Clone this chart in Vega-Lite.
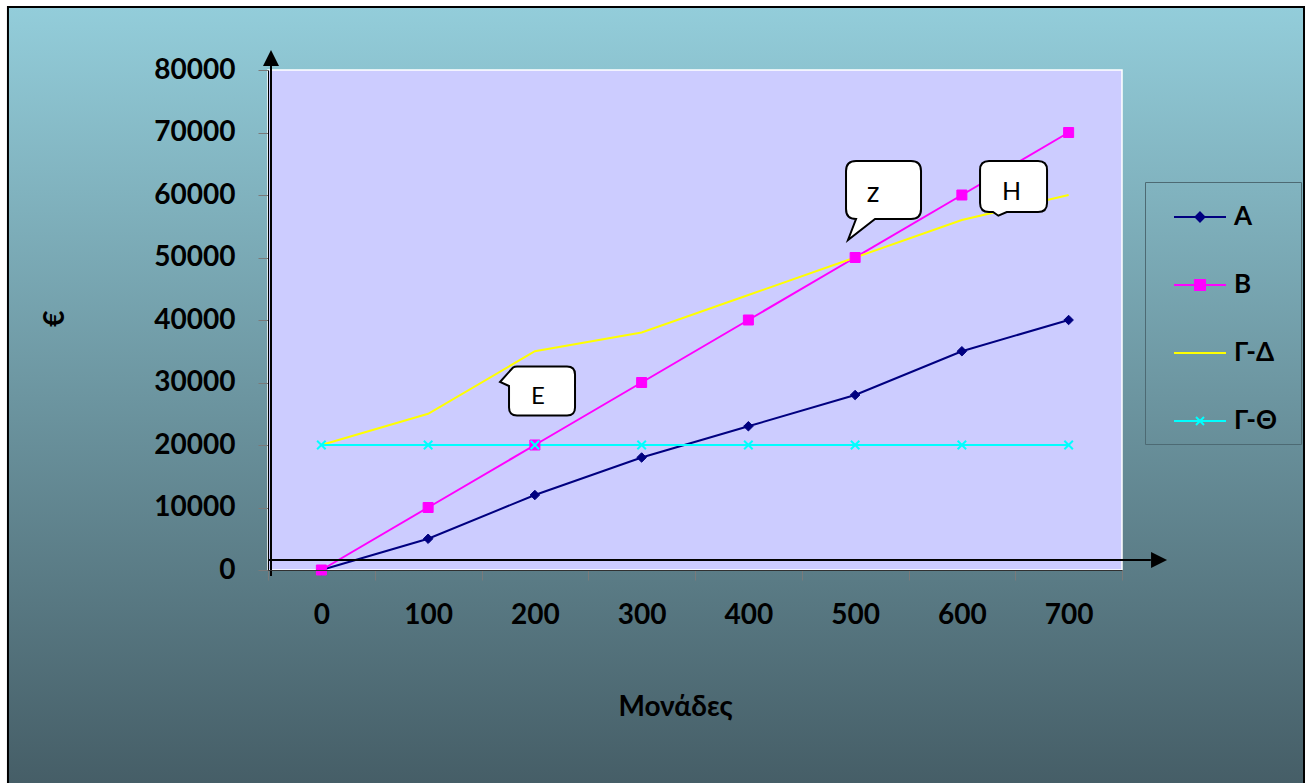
{
  "$schema": "https://vega.github.io/schema/vega-lite/v6.json",
  "width": 854,
  "height": 500,
  "autosize": {"type": "none"},
  "padding": {"left": 268, "top": 70, "right": 187, "bottom": 213},
  "background": "white",
  "config": {"view": {"stroke": null}, "font": "Lato"},
  "datasets": {
    "series": [
      {"units": 0, "value": 0, "series": "Α"},
      {"units": 100, "value": 5000, "series": "Α"},
      {"units": 200, "value": 12000, "series": "Α"},
      {"units": 300, "value": 18000, "series": "Α"},
      {"units": 400, "value": 23000, "series": "Α"},
      {"units": 500, "value": 28000, "series": "Α"},
      {"units": 600, "value": 35000, "series": "Α"},
      {"units": 700, "value": 40000, "series": "Α"},
      {"units": 0, "value": 0, "series": "Β"},
      {"units": 100, "value": 10000, "series": "Β"},
      {"units": 200, "value": 20000, "series": "Β"},
      {"units": 300, "value": 30000, "series": "Β"},
      {"units": 400, "value": 40000, "series": "Β"},
      {"units": 500, "value": 50000, "series": "Β"},
      {"units": 600, "value": 60000, "series": "Β"},
      {"units": 700, "value": 70000, "series": "Β"},
      {"units": 0, "value": 20000, "series": "Γ-Δ"},
      {"units": 100, "value": 25000, "series": "Γ-Δ"},
      {"units": 200, "value": 35000, "series": "Γ-Δ"},
      {"units": 300, "value": 38000, "series": "Γ-Δ"},
      {"units": 400, "value": 44000, "series": "Γ-Δ"},
      {"units": 500, "value": 50000, "series": "Γ-Δ"},
      {"units": 600, "value": 56000, "series": "Γ-Δ"},
      {"units": 700, "value": 60000, "series": "Γ-Δ"},
      {"units": 0, "value": 20000, "series": "Γ-Θ"},
      {"units": 100, "value": 20000, "series": "Γ-Θ"},
      {"units": 200, "value": 20000, "series": "Γ-Θ"},
      {"units": 300, "value": 20000, "series": "Γ-Θ"},
      {"units": 400, "value": 20000, "series": "Γ-Θ"},
      {"units": 500, "value": 20000, "series": "Γ-Θ"},
      {"units": 600, "value": 20000, "series": "Γ-Θ"},
      {"units": 700, "value": 20000, "series": "Γ-Θ"}
    ]
  },
  "layer": [
    {
      "data": {"values": [{}]},
      "mark": {
        "type": "rect",
        "fill": {"gradient": "linear", "x1": 0, "y1": 0, "x2": 0, "y2": 1,
          "stops": [{"offset": 0, "color": "#93CDDA"}, {"offset": 1, "color": "#455D66"}]},
        "stroke": "black", "strokeWidth": 2
      },
      "encoding": {
        "x": {
          "datum": -293.6, "type": "quantitative",
          "scale": {"domain": [-50, 750], "nice": false, "zero": false},
          "axis": {
            "zindex": 1,
            "values": [-50, 50, 150, 250, 350, 450, 550, 650, 750],
            "labelExpr": "datum.value >= 750 ? '' : format(datum.value + 50, 'd')",
            "labelOffset": 53.375,
            "labelOverlap": false, "labelBound": false, "labelFlush": false,
            "labelFont": "Lato", "labelFontSize": 28, "labelFontWeight": "bold", "labelColor": "black",
            "labelPadding": 21,
            "tickSize": 10, "tickColor": "#7a7a7a", "tickWidth": 1,
            "domainColor": "#303030", "domainWidth": 1,
            "grid": false,
            "title": "Μονάδες",
            "titleFont": "Lato", "titleFontSize": 28, "titleFontWeight": "bold", "titleColor": "black",
            "titleX": 407, "titleY": 137, "titleBaseline": "middle", "titleAlign": "center"
          }
        },
        "x2": {"datum": 920.5},
        "y": {
          "datum": 90080, "type": "quantitative",
          "scale": {"domain": [0, 80000], "nice": false, "zero": false},
          "axis": {
            "zindex": 1,
            "values": [0, 10000, 20000, 30000, 40000, 50000, 60000, 70000, 80000],
            "format": "d",
            "labelFont": "Lato", "labelFontSize": 28, "labelFontWeight": "bold", "labelColor": "black",
            "labelPadding": 23,
            "tickSize": 10, "tickColor": "#7a7a7a", "tickWidth": 1,
            "domainColor": "black", "domainWidth": 1,
            "grid": false,
            "title": "€",
            "titleFont": "Lato", "titleFontSize": 28, "titleFontWeight": "bold", "titleColor": "black",
            "titleAngle": 270, "titleX": -213, "titleY": 248, "titleBaseline": "middle", "titleAlign": "center"
          }
        },
        "y2": {"datum": -35200}
      }
    },
    {
      "data": {"values": [{}]},
      "mark": {"type": "rect", "fill": "#CCCCFF", "stroke": "white", "strokeWidth": 1.5},
      "encoding": {
        "x": {"datum": -50, "type": "quantitative", "scale": {"domain": [-50, 750], "nice": false, "zero": false}},
        "x2": {"datum": 750},
        "y": {"datum": 0, "type": "quantitative", "scale": {"domain": [0, 80000], "nice": false, "zero": false}},
        "y2": {"datum": 80000}
      }
    },
    {
      "data": {"name": "series"},
      "mark": {"type": "line", "strokeWidth": 2},
      "encoding": {
        "x": {"field": "units", "type": "quantitative", "scale": {"domain": [-50, 750], "nice": false, "zero": false}},
        "y": {"field": "value", "type": "quantitative", "scale": {"domain": [0, 80000], "nice": false, "zero": false}},
        "color": {
          "field": "series", "type": "nominal",
          "scale": {"domain": ["Α", "Β", "Γ-Δ", "Γ-Θ"], "range": ["#000080", "#FF00FF", "#FFFF00", "#00FFFF"]},
          "legend": {
            "orient": "none", "legendX": 877, "legendY": 112,
            "title": null, "padding": 10, "rowPadding": 30,
            "symbolSize": 2304, "symbolStrokeWidth": 2,
            "labelOffset": 29, "labelFont": "Lato", "labelFontSize": 26, "labelFontWeight": "bold", "labelColor": "black",
            "strokeColor": "#4d6a73", "zindex": 1,
            "encode": {
              "symbols": {
                "update": {
                  "shape": {"signal": "datum.value === 'Α' ? 'M-1,0M-0.25,0H1.917M0.833,-0.19L1.02,0L0.833,0.19L0.646,0ZM4.45,0' : datum.value === 'Β' ? 'M-1,0M-0.25,0H1.917M0.625,-0.208H1.042V0.208H0.625ZM4.45,0' : datum.value === 'Γ-Δ' ? 'M-1,0M-0.25,0H1.917M4.45,0' : 'M-1,0M-0.25,0H1.917M0.667,-0.167L1,0.167M0.667,0.167L1,-0.167M4.45,0'"},
                  "fill": {"signal": "scale('color', datum.value)"},
                  "stroke": {"signal": "scale('color', datum.value)"},
                  "strokeWidth": {"value": 2},
                  "opacity": {"value": 1}
                }
              }
            }
          }
        }
      }
    },
    {
      "data": {"name": "series"},
      "transform": [{"filter": "datum.series === 'Α'"}],
      "mark": {"type": "point", "shape": "diamond", "size": 90, "filled": true, "fill": "#000080", "stroke": "#000080", "strokeWidth": 1, "opacity": 1},
      "encoding": {
        "x": {"field": "units", "type": "quantitative", "scale": {"domain": [-50, 750], "nice": false, "zero": false}},
        "y": {"field": "value", "type": "quantitative", "scale": {"domain": [0, 80000], "nice": false, "zero": false}}
      }
    },
    {
      "data": {"name": "series"},
      "transform": [{"filter": "datum.series === 'Β'"}],
      "mark": {"type": "point", "shape": "square", "size": 100, "filled": true, "fill": "#FF00FF", "stroke": "#FF00FF", "strokeWidth": 1, "opacity": 1},
      "encoding": {
        "x": {"field": "units", "type": "quantitative", "scale": {"domain": [-50, 750], "nice": false, "zero": false}},
        "y": {"field": "value", "type": "quantitative", "scale": {"domain": [0, 80000], "nice": false, "zero": false}}
      }
    },
    {
      "data": {"name": "series"},
      "transform": [{"filter": "datum.series === 'Γ-Θ'"}],
      "mark": {"type": "point", "shape": "M-1,-1L1,1M-1,1L1,-1", "size": 72, "filled": false, "stroke": "#00FFFF", "strokeWidth": 2, "opacity": 1},
      "encoding": {
        "x": {"field": "units", "type": "quantitative", "scale": {"domain": [-50, 750], "nice": false, "zero": false}},
        "y": {"field": "value", "type": "quantitative", "scale": {"domain": [0, 80000], "nice": false, "zero": false}}
      }
    },
    {
      "data": {"values": [{}]},
      "mark": {"type": "rule", "color": "black", "strokeWidth": 2},
      "encoding": {
        "x": {"datum": -47.19, "type": "quantitative", "scale": {"domain": [-50, 750], "nice": false, "zero": false}},
        "y": {"datum": -960, "type": "quantitative", "scale": {"domain": [0, 80000], "nice": false, "zero": false}},
        "y2": {"datum": 81000}
      }
    },
    {
      "data": {"values": [{}]},
      "mark": {"type": "rule", "color": "black", "strokeWidth": 2},
      "encoding": {
        "x": {"datum": -50, "type": "quantitative", "scale": {"domain": [-50, 750], "nice": false, "zero": false}},
        "x2": {"datum": 777},
        "y": {"datum": 1600, "type": "quantitative", "scale": {"domain": [0, 80000], "nice": false, "zero": false}}
      }
    },
    {
      "data": {"values": [{}]},
      "mark": {"type": "point", "shape": "M0,-1L1,1L-1,1Z", "size": 256, "filled": true, "fill": "black", "strokeWidth": 0, "opacity": 1},
      "encoding": {
        "x": {"datum": -47.19, "type": "quantitative", "scale": {"domain": [-50, 750], "nice": false, "zero": false}},
        "y": {"datum": 81920, "type": "quantitative", "scale": {"domain": [0, 80000], "nice": false, "zero": false}}
      }
    },
    {
      "data": {"values": [{}]},
      "mark": {"type": "point", "shape": "M1,0L-1,-1L-1,1Z", "size": 256, "filled": true, "fill": "black", "strokeWidth": 0, "opacity": 1},
      "encoding": {
        "x": {"datum": 784.7, "type": "quantitative", "scale": {"domain": [-50, 750], "nice": false, "zero": false}},
        "y": {"datum": 1600, "type": "quantitative", "scale": {"domain": [0, 80000], "nice": false, "zero": false}}
      }
    },
    {
      "data": {"values": [{"label": "Ε"}]},
      "encoding": {
        "x": {"datum": 206.7, "type": "quantitative", "scale": {"domain": [-50, 750], "nice": false, "zero": false}},
        "y": {"datum": 28640, "type": "quantitative", "scale": {"domain": [0, 80000], "nice": false, "zero": false}}
      },
      "layer": [
        {"mark": {"type": "point", "shape": "M-25,-24.5H25Q33,-24.5 33,-16.5V16.5Q33,24.5 25,24.5H-25Q-33,24.5 -33,16.5V-5L-42,-9L-29,-23.5Q-27.5,-24.5 -25,-24.5Z", "size": 4, "filled": true, "fill": "white", "stroke": "black", "strokeWidth": 2, "opacity": 1}},
        {"mark": {"type": "text", "font": "Lato", "fontSize": 24, "color": "black", "dx": -4, "dy": 6, "baseline": "middle", "align": "center"}, "encoding": {"text": {"field": "label"}}}
      ]
    },
    {
      "data": {"values": [{"label": "z"}]},
      "encoding": {
        "x": {"datum": 526.6, "type": "quantitative", "scale": {"domain": [-50, 750], "nice": false, "zero": false}},
        "y": {"datum": 60800, "type": "quantitative", "scale": {"domain": [0, 80000], "nice": false, "zero": false}}
      },
      "layer": [
        {"mark": {"type": "point", "shape": "M-27.5,-29H27.5Q37.5,-29 37.5,-19V19Q37.5,29 27.5,29H-8.5L-35.5,50L-27.5,29Q-37.5,29 -37.5,19V-19Q-37.5,-29 -27.5,-29Z", "size": 4, "filled": true, "fill": "white", "stroke": "black", "strokeWidth": 2, "opacity": 1}},
        {"mark": {"type": "text", "font": "Lato", "fontSize": 28, "color": "black", "dx": -10.5, "dy": 4, "baseline": "middle", "align": "center"}, "encoding": {"text": {"field": "label"}}}
      ]
    },
    {
      "data": {"values": [{"label": "Η"}]},
      "encoding": {
        "x": {"datum": 648.4, "type": "quantitative", "scale": {"domain": [-50, 750], "nice": false, "zero": false}},
        "y": {"datum": 61360, "type": "quantitative", "scale": {"domain": [0, 80000], "nice": false, "zero": false}}
      },
      "layer": [
        {"mark": {"type": "point", "shape": "M-24.5,-25.5H24.5Q33.5,-25.5 33.5,-16.5V16.5Q33.5,25.5 24.5,25.5H-6.8L-15.2,29.2L-20.5,25.5H-24.5Q-33.5,25.5 -33.5,16.5V-16.5Q-33.5,-25.5 -24.5,-25.5Z", "size": 4, "filled": true, "fill": "white", "stroke": "black", "strokeWidth": 2, "opacity": 1}},
        {"mark": {"type": "text", "font": "Lato", "fontSize": 25, "color": "black", "dx": -2, "dy": 5, "baseline": "middle", "align": "center"}, "encoding": {"text": {"field": "label"}}}
      ]
    }
  ]
}
